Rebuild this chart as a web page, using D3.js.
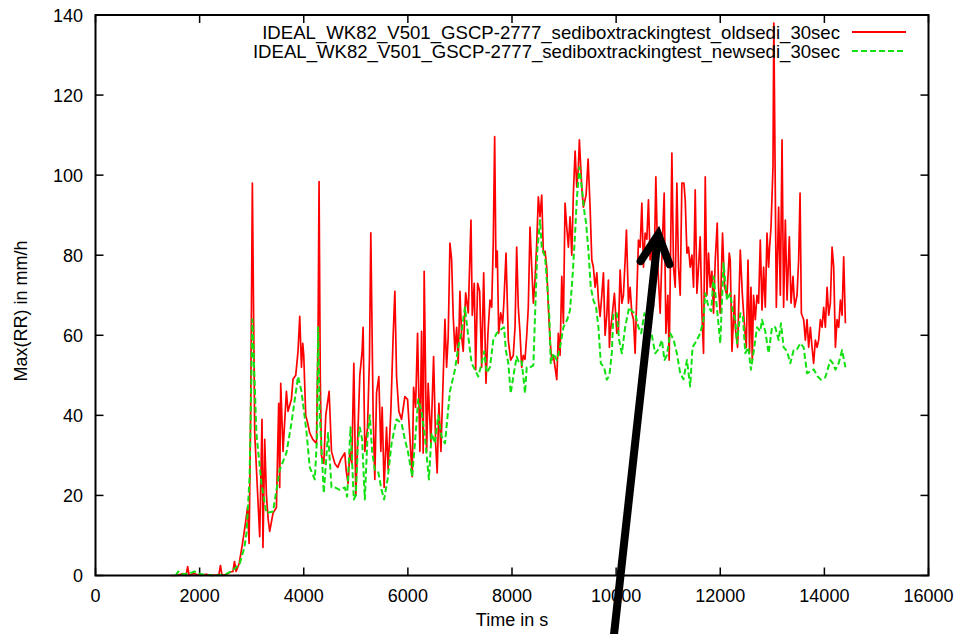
<!DOCTYPE html>
<html>
<head>
<meta charset="utf-8">
<script src="https://cdn.jsdelivr.net/npm/d3@7"></script>
<style>
html,body{margin:0;padding:0;background:#fff;}
svg{display:block;}
text{font-family:"Liberation Sans",Arial,Helvetica,sans-serif;font-size:18px;fill:#000;}
text.legend{font-size:18.6px;}
</style>
</head>
<body>
<svg id="chart" width="960" height="634"></svg>
<script>
// ---- data ----
const seriesNames = [
  "IDEAL_WK82_V501_GSCP-2777_sediboxtrackingtest_oldsedi_30sec",
  "IDEAL_WK82_V501_GSCP-2777_sediboxtrackingtest_newsedi_30sec"
];
const xTicks = [0,2000,4000,6000,8000,10000,12000,14000,16000];
const yTicks = [0,20,40,60,80,100,120,140];
const xLabel = "Time in s";
const yLabel = "Max(RR) in mm/h";

const oldTime = [1440,1560,1680,1740,1770,1800,1890,2010,2130,2250,2370,2400,2430,2520,2580,2640,2670,2700,2760,2820,2880,2920,2950,2980,
3013,3058,3154,3198,3217,3250,3283,3317,3346,3410,3475,3519,3538,3558,3602,3667,3698,3763,3794,3846,3890,3923,3956,3981,4000,4038,4077,4115,4173,4244,4275,4294,4317,4340,4385,4423,4487,4533,4596,4654,4712,4788,4817,4852,4885,4923,4962,
5000,5038,5077,5121,5140,5173,5225,5263,5288,5333,5365,5398,5442,5481,5506,5544,5590,5621,5673,5717,5750,5783,5827,5879,5942,5994,6038,6083,6110,6148,6186,6231,6263,6294,6313,6360,6390,6442,6494,6533,6563,6596,6635,6679,6712,6744,6775,6808,6840,6871,6904,6937,6967,
7000,7033,7063,7110,7160,7212,7237,7275,7302,7340,7379,7417,7456,7500,7538,7577,7610,7640,7667,7692,7717,7744,7783,7821,7846,7885,7929,7975,8025,8058,8090,8121,8154,8186,8217,8250,8283,8313,8346,8379,8410,8442,8475,8506,8538,8571,8602,8635,8667,8698,8731,8763,8794,8827,8860,8890,8923,8956,8987,
9019,9052,9083,9115,9148,9179,9212,9244,9275,9294,9340,9371,9423,9462,9500,9533,9563,9596,9629,9660,9692,9725,9756,9788,9821,9852,9871,9885,9929,9967,10013,10044,10077,10110,10140,10173,10198,10237,10269,10302,10333,10365,10398,10429,10462,10494,10525,10558,10590,10621,10654,10686,10717,10763,10802,10846,10890,10923,10956,10994,
11019,11044,11071,11102,11135,11167,11198,11231,11263,11302,11327,11360,11390,11423,11456,11487,11519,11552,11583,11615,11648,11679,11712,11744,11775,11808,11840,11871,11904,11942,11967,12000,12044,12083,12129,12173,12192,12225,12275,12288,12333,12385,12423,12462,12500,12533,12563,12590,12615,12640,12673,12706,12737,12769,12802,12833,12865,12898,12929,12948,12975,
13013,13029,13048,13077,13121,13154,13187,13217,13250,13283,13327,13360,13398,13429,13475,13506,13533,13558,13602,13635,13667,13698,13731,13763,13794,13827,13860,13890,13923,13956,13987,14019,14052,14083,14115,14148,14179,14212,14244,14275,14308,14340,14371,14404];
const oldRR = [0,0,0.5,0,2.2,0,0.5,0,0.3,0,0.2,2.5,0,0.3,0.8,1,3.5,1,3,7.7,13,17,8,40,
98,35.6,9.7,39,7,34,20,14,11,15.6,17,43,22,48,31,46,41,44,49,50,56,64.7,52,58,55,40,38,35.6,34,33,60,98.4,50,30,28,40,46,31,28,27,29,30.6,26,23,31,28,53,
20,35,50,56,62,31,37,54.7,85.6,40,24,45.6,49.7,31,42,22,37,26.4,41,59.7,71,49.7,41,39,44.7,44,34.7,24.7,47,42,60.5,31,61,30.6,76,31,48,33,54.7,33,25.6,43,31,49.7,64,52,59.7,83,79,64.7,56,62,53,
71,59.7,56,70.6,65.6,88.8,65,73,51.4,73,71,52,75.6,48,60.5,68.8,67,83,109.6,77,81,60.5,65.6,63,68.8,80.5,58.8,53.8,55,62,82,67,60.5,52,55,54,60,67,87,77,68,73.8,83,94.6,89.6,95,80.5,81,77,67,58.8,53.8,55,52,48.9,60.5,55,74.7,63,
93,87,82,89.6,80,95.5,106,97,102,108.8,97,92,95,104,92,78.8,77,72,75.6,68.8,64.7,70,75.6,60,65,73.8,57,60.5,65.5,70.5,60.5,61,76.3,68,70,78.8,86.3,68,72,65.5,64,55.5,70.5,83.8,82,93,77,85.5,84,93.8,78.8,83.8,67,99.6,77,65.5,83.8,95.5,60.5,70,
53.8,78.8,105.5,77,72,98,77,70,98,98,93.8,80.5,82,77,80,72,96.3,70.5,77,84.6,65.5,55.5,99.6,70,80.5,72,76,65.5,78.8,88,72,65.5,85.5,72,70,80.5,78.8,56,70,62,57,81.3,70.5,63,57,78.8,55.5,72,53.8,70,63.9,70,68,83.8,66.3,77,67,85.5,77,82,87,
102,138,110,67,92,70,108.8,67,88.8,68.8,84.6,68,74.7,67,70,78.8,95.5,65.5,63.9,58.8,63.9,57,62,57,53,58.8,57,58.8,63.9,62,67,62,72,65,68,82,77,57,63.9,62,68.8,65,79.6,63];

const newTime = [1540,1590,1650,1800,1900,1980,2100,2300,2500,2600,2700,2770,2860,2900,2960,
3013,3058,3090,3187,3283,3410,3538,3667,3763,3890,3956,4052,4115,4212,4256,4275,4308,4385,4467,4533,4596,4692,4788,4833,4898,4962,
5000,5044,5077,5121,5173,5225,5269,5313,5365,5429,5494,5544,5610,5687,5783,5879,5942,6000,6083,6135,6198,6263,6327,6404,6456,6519,6583,6648,6712,6808,6904,6967,
7033,7096,7160,7225,7288,7352,7417,7467,7513,7577,7640,7706,7783,7846,7885,7929,7975,8025,8090,8140,8186,8250,8283,8346,8410,8442,8487,8538,8571,8635,8679,8717,8744,8794,8860,8923,8987,
9063,9115,9167,9212,9244,9294,9340,9385,9423,9467,9513,9563,9615,9660,9706,9769,9821,9871,9917,9948,10013,10058,10110,10173,10250,10302,10365,10429,10481,10544,10621,10686,10750,10813,10879,10929,10975,
11038,11102,11167,11231,11294,11360,11423,11467,11552,11615,11679,11712,11775,11827,11871,11935,12000,12063,12129,12192,12240,12288,12321,12385,12433,12481,12538,12590,12654,12706,12769,12802,12865,12929,12994,
13058,13121,13167,13217,13283,13346,13410,13475,13538,13602,13667,13731,13794,13871,13937,14019,14115,14163,14212,14275,14340,14404];
const newRR = [0,1,0.3,0.5,1,0.5,0.2,0,0.3,1,2,3,7,10.6,24.6,
64,48,35.6,23,15.6,16,26.4,30.6,38,49.7,46,36,27,24,34.7,62,40,20.6,35.6,22,22,21.4,22,19.7,37,19,
20,34,37,34,19,34.7,40,31,26.4,26,21.4,19,24,33,39,38,34,31,24.7,33,44,41,34.7,24,35.6,33,40,34.7,33,46,51.4,57,
61,67,59.7,53,51.4,49.7,53,56,50.6,52,58.8,60.5,61.4,62,56,53,45.5,49.7,54.7,53,53.5,45.5,52,52,52.5,64.7,81.3,88.8,82,79.6,72,64.7,53,55.5,53.8,57,62,
64,66.3,75.5,85.5,93.8,102,97,91.3,88,81.3,72,68.8,67,62,53,52,48.9,50,55.5,65.5,65.5,58.8,55.5,62,67,66,65.5,62,60.5,65.5,60.5,60,55.5,56.5,58.8,53.8,55,
60.5,59,55.5,50.5,49,53.8,47.2,57,58.8,60.5,63.9,70.5,67,66,74.7,67,58,78,68.8,70.5,66,63.9,58,65.5,65,55.5,57,51.4,57,62,61,63.9,61,55.5,62,
62,58.8,63,57,56,53,56.3,56.5,58,57,50.5,51,51.5,49.7,48.9,49.5,53.8,53,51.4,53,56.3,52];

// ---- chart ----
const svg = d3.select("#chart");
const W = 960, H = 634;
const x = d3.scaleLinear().domain([0,16000]).range([95.5,928.5]);
const y = d3.scaleLinear().domain([0,140]).range([575.5,15]);

svg.append("rect").attr("width",W).attr("height",H).attr("fill","#fff");

const frame = svg.append("g");
const tickLen = 8;
xTicks.forEach(t => {
  frame.append("line").attr("x1",x(t)).attr("x2",x(t)).attr("y1",y(0)).attr("y2",y(0)-tickLen)
    .attr("stroke","#000").attr("stroke-width",1.5);
  frame.append("line").attr("x1",x(t)).attr("x2",x(t)).attr("y1",y(140)).attr("y2",y(140)+tickLen)
    .attr("stroke","#000").attr("stroke-width",1.5);
  svg.append("text").attr("x",x(t)).attr("y",602).attr("text-anchor","middle").text(t);
});
yTicks.forEach(v => {
  frame.append("line").attr("x1",x(0)).attr("x2",x(0)+tickLen).attr("y1",y(v)).attr("y2",y(v))
    .attr("stroke","#000").attr("stroke-width",1.5);
  frame.append("line").attr("x1",x(16000)).attr("x2",x(16000)-tickLen).attr("y1",y(v)).attr("y2",y(v))
    .attr("stroke","#000").attr("stroke-width",1.5);
  svg.append("text").attr("x",83).attr("y",y(v)+6.5).attr("text-anchor","end").text(v);
});

svg.append("text").attr("x",(x(0)+x(16000))/2).attr("y",626).attr("text-anchor","middle").text(xLabel);
svg.append("text").attr("transform","translate(27,311) rotate(-90)").attr("text-anchor","middle").text(yLabel);

const line = d3.line().x(d => x(d[0])).y(d => y(d[1]));
const oldData = oldTime.map((t,i) => [t, oldRR[i]]);
const newData = newTime.map((t,i) => [t, newRR[i]]);
const colors = ["#ff0000", "#11e011"];
const dashes = [null, "6,3"];

svg.append("path").datum(oldData).attr("d",line).attr("fill","none")
  .attr("stroke",colors[0]).attr("stroke-width",1.7).attr("stroke-linejoin","round");
svg.append("path").datum(newData).attr("d",line).attr("fill","none")
  .attr("stroke",colors[1]).attr("stroke-width",2).attr("stroke-dasharray",dashes[1]).attr("stroke-linejoin","round");

svg.append("rect").attr("x",x(0)).attr("y",y(140)).attr("width",x(16000)-x(0)).attr("height",y(0)-y(140))
  .attr("fill","none").attr("stroke","#000").attr("stroke-width",2);

seriesNames.forEach((name,i) => {
  const ly = 32 + i*19;
  svg.append("text").attr("class","legend").attr("x",840).attr("y",ly+6.7).attr("text-anchor","end").text(name);
  const l = svg.append("line").attr("x1",852).attr("x2",906).attr("y1",ly).attr("y2",ly)
    .attr("stroke",colors[i]).attr("stroke-width",2);
  if (dashes[i]) l.attr("stroke-dasharray",dashes[i]);
});

// annotation arrow (in data coordinates)
const tip = [10808, 85.2];
const tail = [9940, -17];
const p0 = [x(tail[0]), y(tail[1])], p1 = [x(tip[0]), y(tip[1])];
const ang = Math.atan2(p0[1]-p1[1], p0[0]-p1[0]);
const wl = 32, spread = 27*Math.PI/180;
const w1 = [p1[0]+wl*Math.cos(ang+spread), p1[1]+wl*Math.sin(ang+spread)];
const w2 = [p1[0]+wl*Math.cos(ang-spread), p1[1]+wl*Math.sin(ang-spread)];
svg.append("path").attr("d",`M${p0[0]},${p0[1]}L${p1[0]},${p1[1]}`)
  .attr("stroke","#000").attr("stroke-width",8).attr("fill","none");
svg.append("path").attr("d",`M${w1[0]},${w1[1]}L${p1[0]},${p1[1]}L${w2[0]},${w2[1]}`)
  .attr("stroke","#000").attr("stroke-width",8).attr("fill","none")
  .attr("stroke-linejoin","miter").attr("stroke-linecap","round");
</script>
</body>
</html>
